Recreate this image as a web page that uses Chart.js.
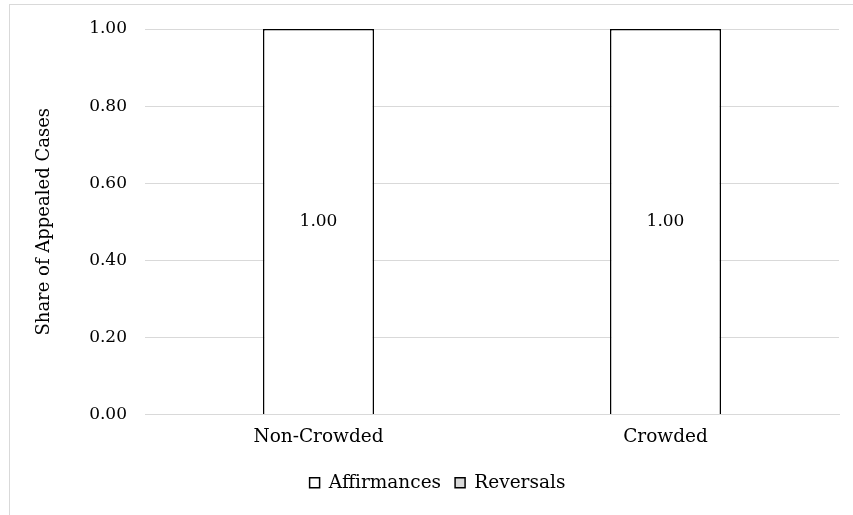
<!DOCTYPE html>
<html>
<head>
<meta charset="utf-8">
<script src="https://cdn.jsdelivr.net/npm/chart.js@4.4.1/dist/chart.umd.min.js"></script>
<style>
  html, body { margin: 0; padding: 0; background: #fff; overflow: hidden; }
  #frame { position: absolute; left: 9px; top: 4px; width: 900px; height: 600px; border: 1px solid #d9d9d9; box-sizing: border-box; }
  #wrap { position: absolute; left: 0; top: 0; width: 853px; height: 515px; }
</style>
</head>
<body>
<div id="frame"></div>
<div id="wrap"><canvas id="c" width="853" height="515"></canvas></div>
<script>
const categories = ['Non-Crowded', 'Crowded'];
const affirmances = [1.00, 1.00];
const reversals = [0.00, 0.00];
const seriesNames = ['Affirmances', 'Reversals'];
const yTicks = [0, 0.2, 0.4, 0.6, 0.8, 1.0];

const FONT = "'DejaVu Serif', 'Liberation Serif', serif";
Chart.defaults.font.family = FONT;
Chart.defaults.color = '#000';

const labelPlugin = {
  id: 'barLabels',
  afterDatasetsDraw(chart) {
    const ctx = chart.ctx;
    const meta = chart.getDatasetMeta(0);
    ctx.save();
    ctx.font = "17px " + FONT;
    ctx.fillStyle = '#000';
    ctx.textAlign = 'center';
    ctx.textBaseline = 'middle';
    meta.data.forEach((bar, i) => {
      const v = affirmances[i];
      const c = bar.getCenterPoint();
      ctx.fillText(v.toFixed(2), c.x, c.y);
    });
    ctx.restore();
  }
};

const shiftLegend = {
  id: 'shiftLegend',
  afterLayout(chart) {
    const lg = chart.legend;
    if (lg) { lg.left += 18; lg.right += 18; }
  }
};

new Chart(document.getElementById('c'), {
  type: 'bar',
  data: {
    labels: categories,
    datasets: [
      { label: seriesNames[0], data: affirmances, backgroundColor: '#ffffff', borderColor: '#000', borderWidth: 1.5, borderSkipped: 'start' },
      { label: seriesNames[1], data: reversals, backgroundColor: '#d9d9d9', borderColor: '#000', borderWidth: 1.5, borderSkipped: 'start' }
    ]
  },
  options: {
    responsive: false,
    animation: false,
    layout: { padding: { left: 0, right: 14, top: 29, bottom: 13 } },
    datasets: { bar: { barPercentage: 0.32, categoryPercentage: 1.0 } },
    plugins: {
      legend: {
        position: 'bottom',
        labels: {
          font: { size: 18.5 },
          boxWidth: 10, boxHeight: 10,
          padding: 14,
          generateLabels(chart) {
            return chart.data.datasets.map((ds, i) => ({
              text: ds.label, fillStyle: ds.backgroundColor, strokeStyle: '#000', lineWidth: 1.5, datasetIndex: i, hidden: false
            }));
          }
        }
      },
      tooltip: { enabled: false }
    },
    scales: {
      x: {
        stacked: true,
        grid: { display: false, drawTicks: false },
        border: { display: true, color: '#d9d9d9', width: 1 },
        ticks: { font: { size: 18.5 }, padding: 12 },
        afterFit(s) { s.height = 45; }
      },
      y: {
        stacked: true,
        min: 0, max: 1,
        afterBuildTicks(s) { s.ticks = yTicks.map(v => ({ value: v })); },
        ticks: { font: { size: 17 }, padding: 18, callback: v => Number(v).toFixed(2) },
        grid: { color: '#d9d9d9', lineWidth: 1, drawTicks: false },
        border: { display: false },
        title: { display: true, text: 'Share of Appealed Cases', font: { size: 18 }, padding: { top: 34, bottom: 0 } },
        afterFit(s) { s.width = 145; }
      }
    }
  },
  plugins: [labelPlugin, shiftLegend]
});
</script>
</body>
</html>
